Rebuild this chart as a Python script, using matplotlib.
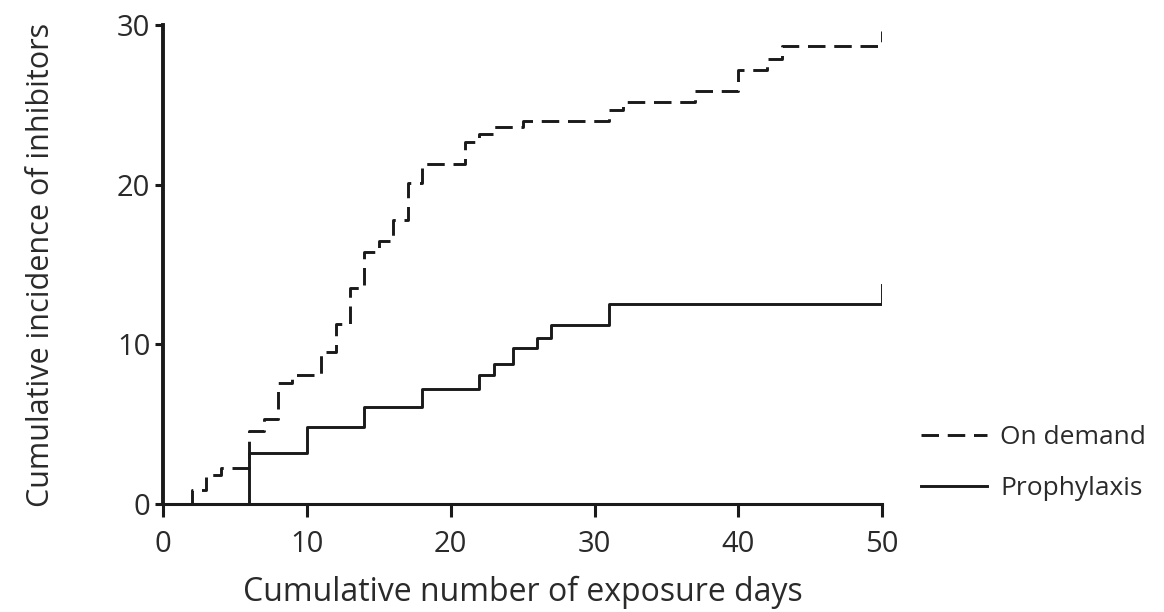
import matplotlib
matplotlib.use('Agg')
import matplotlib.pyplot as plt

plt.rcParams['font.family'] = ['Open Sans', 'DejaVu Sans']

# on demand (dashed) step curve
od_x = [0, 2, 3, 4, 6, 7, 8, 9, 11, 12, 13, 14, 15, 16, 17, 18, 21, 22, 23, 25, 31, 32, 37, 40, 42, 43, 50, 50]
od_y = [0, 0.9, 1.8, 2.25, 4.6, 5.3, 7.6, 8.1, 9.5, 11.3, 13.5, 15.8, 16.5, 17.8, 20.1, 21.3, 22.7, 23.2, 23.6,
        24.0, 24.7, 25.2, 25.9, 27.2, 27.9, 28.7, 28.7, 29.6]

# prophylaxis (solid) step curve
pr_x = [0, 6, 10, 14, 18, 22, 23, 24.3, 26, 27, 31, 50, 50]
pr_y = [0, 3.2, 4.8, 6.1, 7.2, 8.1, 8.8, 9.8, 10.4, 11.2, 12.5, 12.5, 13.7]

xticks = [0, 10, 20, 30, 40, 50]
yticks = [0, 10, 20, 30]

ink = '#1a1a1a'
txt = '#2a2a2a'

fig = plt.figure(figsize=(11.64, 6.12), dpi=100)
ax = fig.add_axes([0.140, 0.1765, 0.618, 0.7825])

l1, = ax.step(od_x, od_y, where='post', color=ink, lw=2.1, dashes=(6, 3), label='On demand')
l2, = ax.step(pr_x, pr_y, where='post', color=ink, lw=2.1, label='Prophylaxis')

ax.set_xlim(0, 50)
ax.set_ylim(0, 30)
ax.set_xticks(xticks)
ax.set_yticks(yticks)
for s in ['top', 'right']:
    ax.spines[s].set_visible(False)
ax.spines['left'].set_linewidth(2.8)
ax.spines['bottom'].set_linewidth(2.2)
ax.spines['left'].set_color(ink)
ax.spines['bottom'].set_color(ink)
ax.tick_params(axis='x', length=9, width=2.2, color=ink, labelcolor=txt, labelsize=21, pad=10)
ax.tick_params(axis='y', length=6, width=2.2, color=ink, labelcolor=txt, labelsize=21, pad=3)

ax.set_xlabel('Cumulative number of exposure days', fontsize=23, color=txt, labelpad=12)
ax.set_ylabel('Cumulative incidence of inhibitors', fontsize=22, color=txt, labelpad=44)

fig.legend(handles=[l1, l2], loc='center left', bbox_to_anchor=(0.771, 0.243),
           frameon=False, fontsize=19, handlelength=2.5, handletextpad=0.5, labelspacing=1.0,
           labelcolor=txt)

fig.savefig('out.png', dpi=100)
